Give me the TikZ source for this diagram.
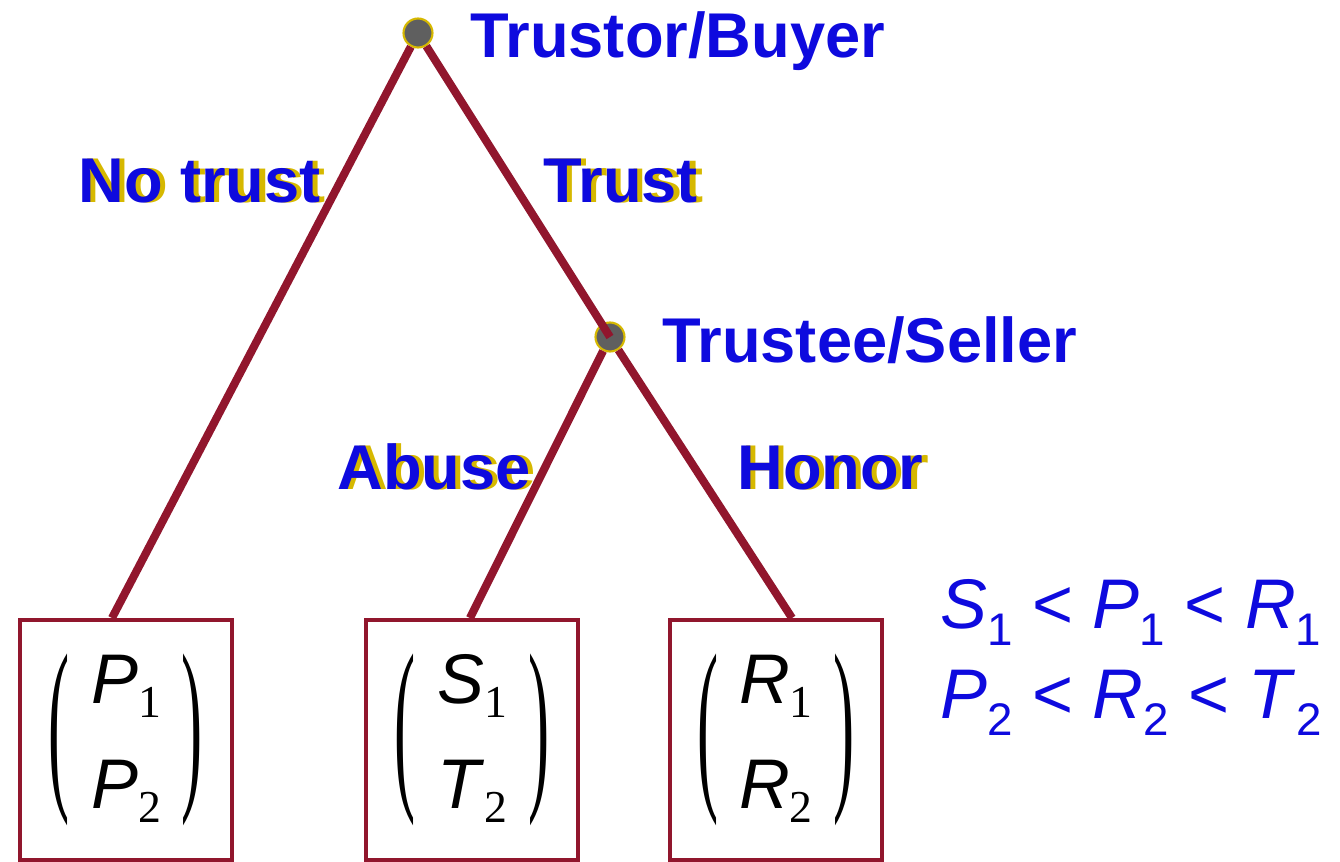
\documentclass[tikz,border=0pt]{standalone}
\usepackage{fontspec}
\usepackage{graphicx}
\setmainfont{Liberation Sans}
\newfontfamily\serifdig{Liberation Serif}
\usetikzlibrary{calc}

\definecolor{branch}{RGB}{145,22,45}
\definecolor{lblblue}{RGB}{14,10,222}
\definecolor{shadowgold}{RGB}{214,184,0}
\definecolor{knotgray}{RGB}{95,95,95}

% gold copy of a label, a little to the right, behind the blue one
\newcommand{\glow}[1]{\rlap{\hspace{3pt}\textcolor{shadowgold}{#1}}#1}
% payoff letter with serif index
\newcommand{\payv}[2]{\textit{#1}\raisebox{-8pt}{\serifdig\fontsize{26}{26}\selectfont #2}}
% letter with sans index, for the order of payoffs
\newcommand{\ineqv}[2]{\textit{#1}\raisebox{-10pt}{\fontsize{26}{26}\selectfont #2}}
% tall thin parenthesis
\newcommand{\tallpar}[1]{\vcenter{\hbox{\scalebox{1}[3.0]{\serifdig\fontsize{36}{36}\selectfont #1}}}}
\newcommand{\payoff}[2]{$\tallpar{(}\hspace{12pt}\vcenter{\hbox{\begin{tabular}{@{}c@{}}#1\\[14pt]#2\end{tabular}}}\hspace{12pt}\tallpar{)}$}

\begin{document}
\begin{tikzpicture}[x=0.02cm, y=-0.02cm,
    knot/.style={circle, fill=knotgray, draw=shadowgold, line width=1.2pt, minimum size=0.58cm, inner sep=0pt},
    outcome/.style={draw=branch, line width=2.3pt, minimum width=4.24cm, minimum height=4.8cm, inner sep=0pt, font=\fontsize{40}{46}\selectfont},
    move/.style={anchor=base west, text=lblblue, font=\bfseries\fontsize{36}{36}\selectfont, inner sep=0pt},
    order/.style={anchor=base west, text=lblblue, font=\fontsize{40}{40}\selectfont, inner sep=0pt},
    branchline/.style={draw=branch, line width=4.6pt}]
    \useasboundingbox (0,0) rectangle (1340,862);

    % outcomes
    \node[outcome] (leafP) at (126,740) {\payoff{\payv{P}{1}}{\payv{P}{2}}};
    \node[outcome] (leafS) at (472,740) {\payoff{\payv{S}{1}}{\payv{T}{2}}};
    \node[outcome] (leafR) at (776,740) {\payoff{\payv{R}{1}}{\payv{R}{2}}};

    % decision points
    \node[knot] (seller) at (610,337) {};
    \draw[branchline] (seller) -- ($(leafS.north)+(-2,0)$);
    \draw[branchline] (seller) -- ($(leafR.north)+(16,0)$);
    \node[knot] (buyer) at (418,33) {};
    \draw[branchline] (buyer) -- ($(leafP.north)+(-14,0)$);
    \draw[branchline] (buyer) -- (seller.center);

    % labels
    \node[move] (buyerlbl) at (470,57) {Trustor/Buyer};
    \node[move] (sellerlbl) at (662,362) {Trustee/Seller};
    \node[move] (notrust) at (78,202) {\glow{No trust}};
    \node[move] (trust) at (543,202) {\glow{Trust}};
    \node[move] (abuse) at (337,489) {\glow{Abuse}};
    \node[move] (honor) at (737,489) {\glow{Honor}};

    \node[order] (orderA) at (940,628) {\ineqv{S}{1} < \ineqv{P}{1} < \ineqv{R}{1}};
    \node[order] (orderB) at (940,718) {\ineqv{P}{2} < \ineqv{R}{2} < \ineqv{T}{2}};
\end{tikzpicture}
\end{document}
